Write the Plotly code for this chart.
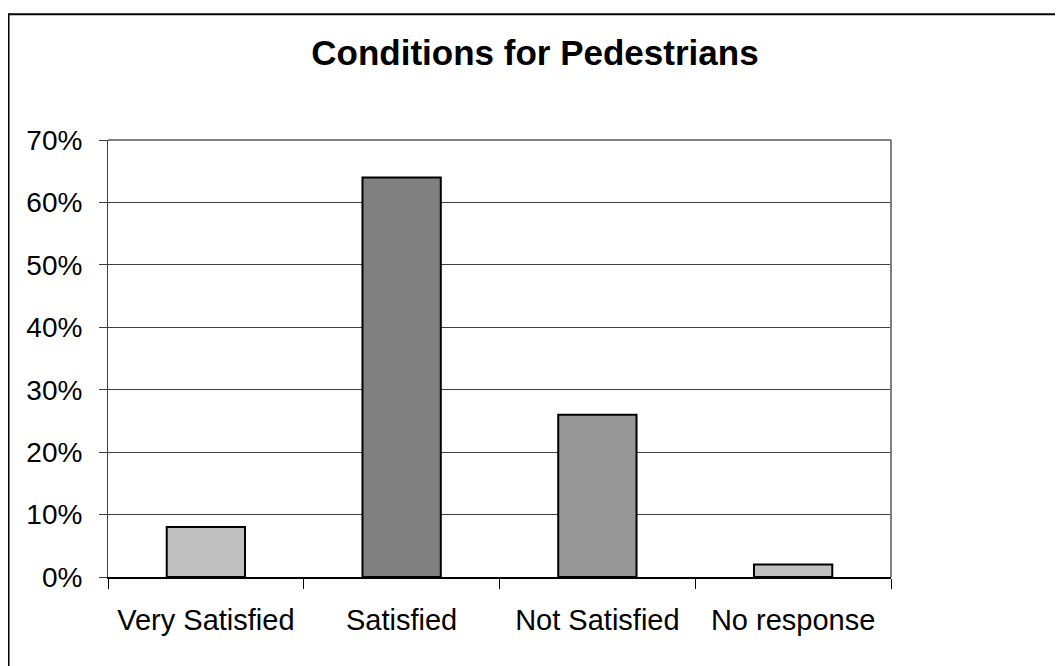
import plotly.graph_objects as go

# survey answers, share of respondents
categories = ["Very Satisfied", "Satisfied", "Not Satisfied", "No response"]
shares = [0.08, 0.64, 0.26, 0.02]
bar_colors = ["#C0C0C0", "#808080", "#969696", "#C0C0C0"]

FONT = "Arial, Liberation Sans, sans-serif"

fig = go.Figure(
    go.Bar(
        x=categories,
        y=shares,
        marker={"color": bar_colors, "line": {"color": "black", "width": 2}},
        hoverinfo="x+y",
    )
)

# page body adds an 8px margin, so the figure is a bit smaller than the window
fig.update_layout(
    width=1055,
    height=658,
    margin={"l": 100, "r": 172, "t": 132, "b": 89},
    paper_bgcolor="white",
    plot_bgcolor="white",
    font={"family": FONT, "size": 28, "color": "black"},
    bargap=0.6,
    showlegend=False,
    title={
        "text": "<b>Conditions for Pedestrians</b>",
        "font": {"size": 35, "family": FONT, "color": "black"},
        "x": 0.4995,
        "xanchor": "center",
        "y": 0.932,
        "yanchor": "middle",
    },
)

fig.update_yaxes(
    range=[0, 0.7],
    dtick=0.1,
    tickformat=".0%",
    showgrid=True,
    gridcolor="#404040",
    gridwidth=1,
    showline=True,
    linecolor="#404040",
    linewidth=1,
    ticks="outside",
    ticklen=8,
    tickcolor="#404040",
    ticklabelstandoff=11,
    zeroline=False,
    fixedrange=True,
)

fig.update_xaxes(
    showline=True,
    linecolor="black",
    linewidth=2,
    ticks="outside",
    tickson="boundaries",
    ticklen=10,
    tickcolor="black",
    tickfont={"size": 29},
    ticklabelstandoff=16,
    showgrid=False,
    fixedrange=True,
)

# grey top and right edges of the plot area
fig.add_shape(type="line", xref="paper", yref="paper", x0=0, x1=1, y0=1, y1=1,
              line={"color": "#808080", "width": 2})
fig.add_shape(type="line", xref="paper", yref="paper", x0=1, x1=1, y0=0, y1=1,
              line={"color": "#808080", "width": 2})

# outer chart frame (only top and left edges are visible)
fig.add_shape(type="line", xref="paper", yref="paper", x0=-0.1277, x1=1.3, y0=1.288, y1=1.288,
              line={"color": "black", "width": 2})
fig.add_shape(type="line", xref="paper", yref="paper", x0=-0.1277, x1=-0.1277, y0=-0.3, y1=1.288,
              line={"color": "black", "width": 3})

fig.write_html("out.html")
